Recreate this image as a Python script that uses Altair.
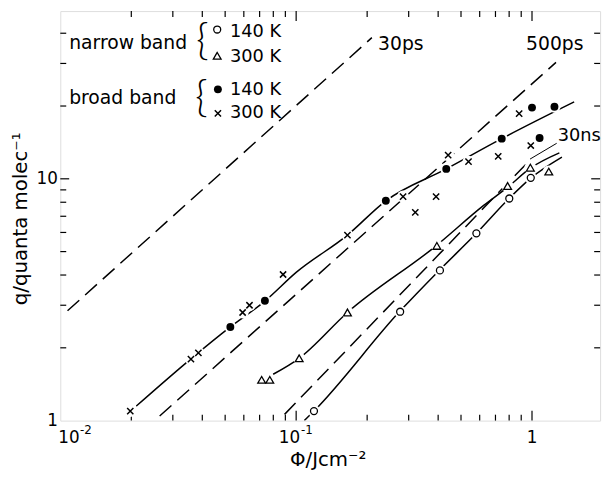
import altair as alt
import pandas as pd

FONT = "DejaVu Sans"

# ---- measured points (Phi in J cm^-2, q in quanta per molecule) ----
nb140_phi = [0.119, 0.276, 0.407, 0.581, 0.801, 0.988]
nb140_q = [1.095, 2.82, 4.18, 5.95, 8.29, 10.09]

nb300_phi = [0.0714, 0.0773, 0.103, 0.165, 0.395, 0.788, 0.984, 1.178]
nb300_q = [1.474, 1.474, 1.81, 2.80, 5.28, 9.34, 11.12, 10.71]

bb140_phi = [0.0526, 0.0737, 0.240, 0.433, 0.744, 1.000, 1.077, 1.245]
bb140_q = [2.44, 3.13, 8.11, 10.99, 14.66, 19.7, 14.75, 19.86]

bb300_phi = [0.0198, 0.0358, 0.0385, 0.0593, 0.0634, 0.088, 0.165, 0.284,
             0.320, 0.392, 0.441, 0.538, 0.719, 0.882, 0.988]
bb300_q = [1.095, 1.796, 1.907, 2.80, 3.00, 4.02, 5.85, 8.44,
           7.26, 8.44, 12.53, 11.77, 12.38, 18.6, 13.73]

# ---- hand-drawn curves through the data ----
fit_bb_phi = [0.0210, 0.0358, 0.0526, 0.0737, 0.100, 0.165, 0.240, 0.433, 0.744, 1.509]
fit_bb_q = [1.148, 1.80, 2.44, 3.12, 4.10, 5.85, 8.11, 10.99, 14.66, 20.8]
fit_nb300_phi = [0.0799, 0.103, 0.165, 0.392, 0.624, 0.794, 0.984, 1.306]
fit_nb300_q = [1.555, 1.81, 2.80, 5.28, 7.76, 9.28, 11.06, 12.8]
fit_nb140_phi = [0.1083, 0.119, 0.275, 0.404, 0.581, 0.801, 0.988, 1.339]
fit_nb140_q = [1.0, 1.095, 2.83, 4.18, 5.95, 8.31, 10.07, 12.3]

# ---- model lines (dashed) ----
ps30_phi = [0.01073, 0.2094]
ps30_q = [2.846, 38.35]
ps500_phi = [0.02638, 1.264]
ps500_q = [1.045, 30.3]
ns30_phi = [0.0893, 0.944]
ns30_q = [1.061, 11.51]

# ---- ticks and tick labels ----
x_minor = [0.02, 0.03, 0.04, 0.05, 0.06, 0.07, 0.08, 0.09,
           0.2, 0.3, 0.4, 0.5, 0.6, 0.7, 0.8, 0.9]
x_major = [0.1, 1.0]
y_minor = [2, 3, 4, 5, 6, 7, 8, 9, 20, 30, 40]
y_major = [10]
xlab_vals = [0.01, 0.1, 1.0]
xlab_base = ["10", "10", "1"]
xlab_exp = ["-2", "-1", ""]
y_label_vals = [1, 10]

W, H = 547, 415

xs = alt.Scale(type="log", domain=[0.01, 1.944], nice=False)
ys = alt.Scale(type="log", domain=[1, 49.4], nice=False)

xaxis = alt.Axis(
    values=xlab_vals, ticks=False, domain=False, grid=False, labels=False,
    title="Φ/Jcm⁻²", titleFont=FONT, titleFontSize=20, titleFontWeight="normal",
    titleColor="black", titleX=271, titleY=46, titleAlign="center",
    titleBaseline="alphabetic", titleAnchor="middle",
)
yaxis = alt.Axis(
    values=y_label_vals, ticks=False, domain=False, grid=False,
    labelExpr="datum.value < 5 ? '1' : '10'",
    labelFont=FONT, labelFontSize=17, labelColor="black", labelPadding=3,
    title="q/quanta molec⁻¹", titleFont=FONT, titleFontSize=20,
    titleFontWeight="normal", titleColor="black", titleX=-34, titleY=210,
    titleAngle=270, titleAlign="center", titleBaseline="alphabetic",
)


def X(f="phi"):
    return alt.X(f"{f}:Q", scale=xs, axis=xaxis)


def Y(f="q"):
    return alt.Y(f"{f}:Q", scale=ys, axis=yaxis)


def df(phi, q):
    return pd.DataFrame({"phi": phi, "q": q})


layers = []

# dashed model lines
for phi, q in [(ps30_phi, ps30_q), (ps500_phi, ps500_q), (ns30_phi, ns30_q)]:
    layers.append(
        alt.Chart(df(phi, q)).mark_line(color="black", strokeWidth=1.5,
                                         strokeDash=[16, 8], clip=True)
        .encode(x=X(), y=Y())
    )

# solid curves
for phi, q in [(fit_bb_phi, fit_bb_q), (fit_nb300_phi, fit_nb300_q),
               (fit_nb140_phi, fit_nb140_q)]:
    layers.append(
        alt.Chart(df(phi, q)).mark_line(color="black", strokeWidth=1.5,
                                         interpolate="monotone", clip=True)
        .encode(x=X(), y=Y())
    )


# inward ticks on all four sides
def xticks(vals, L):
    d = pd.DataFrame({"phi": vals})
    bot = alt.Chart(d).mark_rule(color="black", strokeWidth=1.2).encode(
        x=X(), y=alt.value(H), y2=alt.value(H - L))
    top = alt.Chart(d).mark_rule(color="black", strokeWidth=1.2).encode(
        x=X(), y=alt.value(0), y2=alt.value(L))
    return [bot, top]


def yticks(vals, L):
    d = pd.DataFrame({"q": vals})
    left = alt.Chart(d).mark_rule(color="black", strokeWidth=1.2).encode(
        y=Y(), x=alt.value(0), x2=alt.value(L))
    right = alt.Chart(d).mark_rule(color="black", strokeWidth=1.2).encode(
        y=Y(), x=alt.value(W), x2=alt.value(W - L))
    return [left, right]


layers += xticks(x_minor, 6) + xticks(x_major, 10)
layers += yticks(y_minor, 6) + yticks(y_major, 9)

# x tick labels: base and exponent written separately
base_place = [dict(align="left", dx=-2), dict(align="right", dx=4), dict(align="center", dx=0)]
exp_dx = [20, 5, 0]
for i, v in enumerate(xlab_vals):
    d = pd.DataFrame({"phi": [v], "t": [xlab_base[i]], "e": [xlab_exp[i]]})
    layers.append(
        alt.Chart(d).mark_text(font=FONT, fontSize=17, baseline="alphabetic",
                               color="black", **base_place[i])
        .encode(x=X(), y=alt.value(H + 23), text="t:N")
    )
    if xlab_exp[i]:
        layers.append(
            alt.Chart(d).mark_text(font=FONT, fontSize=12, baseline="alphabetic",
                                   align="left", dx=exp_dx[i], color="black")
            .encode(x=X(), y=alt.value(H + 14), text="e:N")
        )

# white halos that break the lines around the markers
all_phi = nb140_phi + nb300_phi + bb140_phi + bb300_phi
all_q = nb140_q + nb300_q + bb140_q + bb300_q
layers.append(
    alt.Chart(df(all_phi, all_q)).mark_point(shape="circle", filled=True,
                                             fill="white", stroke=None,
                                             opacity=1, size=150)
    .encode(x=X(), y=Y())
)

CROSS = "M-1,-1L1,1M-1,1L1,-1"
open_circle = dict(shape="circle", filled=True, fill="white", stroke="black",
                   strokeWidth=1.3, size=50, opacity=1)
open_tri = dict(shape="triangle-up", filled=True, fill="white", stroke="black",
                strokeWidth=1.3, size=62, opacity=1)
dot = dict(shape="circle", filled=True, fill="black", stroke=None, size=64, opacity=1)
cross = dict(shape=CROSS, filled=False, stroke="black", strokeWidth=1.5,
             size=40, opacity=1)

layers.append(alt.Chart(df(nb140_phi, nb140_q)).mark_point(**open_circle).encode(x=X(), y=Y()))
layers.append(alt.Chart(df(nb300_phi, nb300_q)).mark_point(**open_tri).encode(x=X(), y=Y()))
layers.append(alt.Chart(df(bb140_phi, bb140_q)).mark_point(**dot).encode(x=X(), y=Y()))
layers.append(alt.Chart(df(bb300_phi, bb300_q)).mark_point(**cross).encode(x=X(), y=Y()))

# ---- annotations (legend, line labels) ----
ONE = pd.DataFrame({"t": [""]})


def note(text, x, y, size=18, align="left", baseline="alphabetic", font=FONT, weight="normal"):
    return alt.Chart(pd.DataFrame({"t": [text]})).mark_text(
        font=font, fontSize=size, align=align, baseline=baseline,
        fontWeight=weight, color="black").encode(
        x=alt.value(x), y=alt.value(y), text="t:N")


def sym(style, x, y):
    return alt.Chart(ONE).mark_point(**style).encode(x=alt.value(x), y=alt.value(y))


legend_groups = ["narrow band", "broad band"]
legend_temps = ["140 K", "300 K", "140 K", "300 K"]
line_labels = ["30ps", "500ps", "30ns"]

layers += [
    note(legend_groups[0], 9, 38.7, size=19),
    note(legend_groups[1], 9, 93.7, size=19),
    note("{", 144, 32, size=44, align="center", baseline="middle", font="Lato", weight=300),
    note("{", 143, 89.5, size=44, align="center", baseline="middle", font="Lato", weight=300),
    sym(open_circle, 159, 18.7),
    sym(open_tri, 159, 45.3),
    sym(dot, 159.7, 79.3),
    sym(cross, 159.7, 103.7),
    note(legend_temps[0], 172, 26.7),
    note(legend_temps[1], 172, 52),
    note(legend_temps[2], 172, 84.7),
    note(legend_temps[3], 172, 108.7),
    note(line_labels[0], 322, 39, size=19),
    note(line_labels[1], 472, 39, size=19),
    note(line_labels[2], 504, 132),
    alt.Chart(ONE).mark_rule(color="black", strokeWidth=1).encode(
        x=alt.value(503), y=alt.value(134), x2=alt.value(476), y2=alt.value(150)),
]

chart = (
    alt.layer(*layers)
    .properties(width=W, height=H, autosize=alt.AutoSizeParams(type="none"),
                padding={"left": 53, "top": 0, "right": 7, "bottom": 51})
    .configure_view(stroke="black", strokeWidth=1.3)
    .configure(background="white")
)

chart.save("out.html", embed_options={"renderer": "svg", "actions": False})
